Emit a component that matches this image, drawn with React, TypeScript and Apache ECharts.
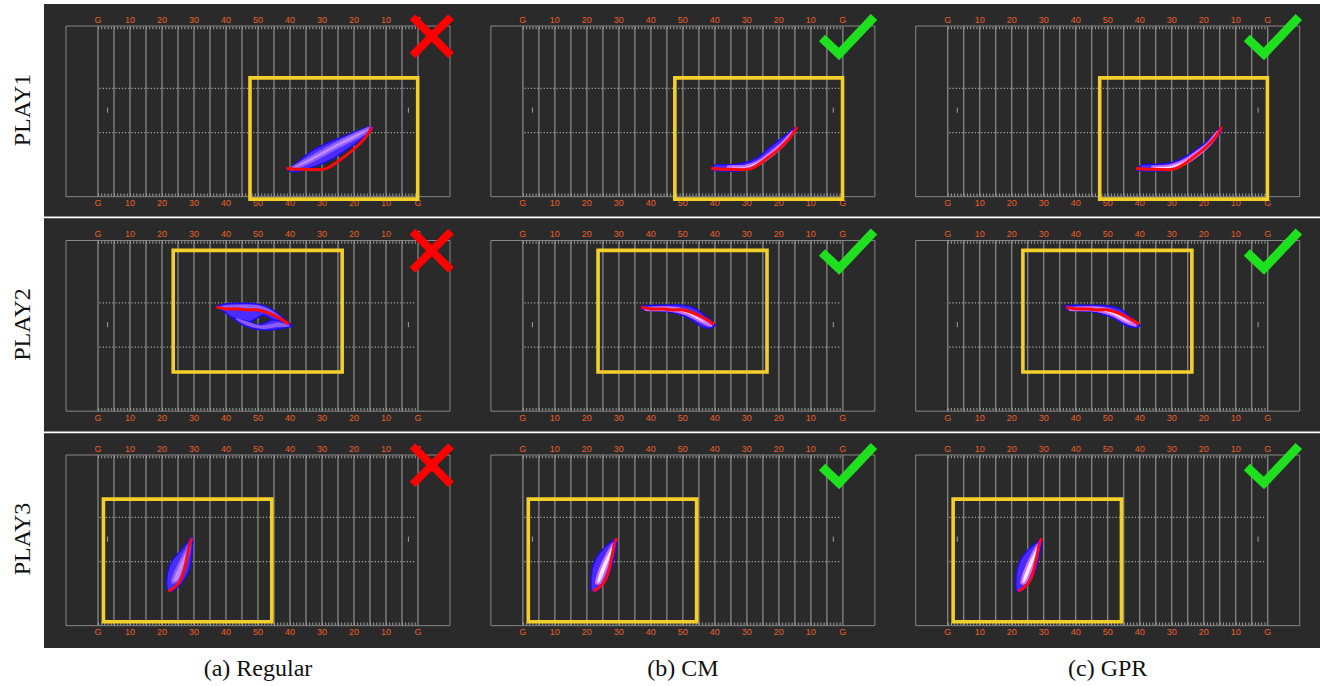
import React, { useEffect, useRef } from "react";
import * as echarts from "echarts";

// ---------- field geometry (yards) ----------
const FIELD_LENGTH = 120;
const FIELD_WIDTH = 53.33;
const FIELD_LABELS = ["", "G", "10", "20", "30", "40", "50", "40", "30", "20", "10", "G", ""];
const YARD_LINES = [10, 15, 20, 25, 30, 35, 40, 45, 50, 55, 60, 65, 70, 75, 80, 85, 90, 95, 100, 105, 110];
const HASH_ROWS = [19.5, 33.3];
const SIDE_TICK_ROWS = [0.6, 52.7];
const INBOUND_MARKS = [13, 107];

const PLAYS = ["PLAY1", "PLAY2", "PLAY3"];
const METHODS = ["(a) Regular", "(b) CM", "(c) GPR"];
const VERDICTS = ["wrong", "right", "right"];

// ---------- zoom boxes [x1, y1, x2, y2] in yards ----------
const BOX_PLAY1 = [57.5, 16.2, 109.9, 54.1];
const BOX_PLAY2 = [33.5, 3.1, 86.3, 41.1];
const BOX_PLAY3 = [11.7, 13.8, 64.3, 52.1];

// ---------- ground-truth trajectories (red) ----------
const TRUTH_PLAY1 = [[68.9, 44.5], [73.7, 44.8], [78.9, 44.9], [81.5, 44.5], [84.2, 42.9], [87.3, 40.6], [90.3, 38.2], [93.0, 35.5], [94.7, 33.2], [95.6, 31.5]];
const TRUTH_PLAY2 = [[47.0, 20.8], [50.0, 21.4], [54.0, 21.4], [56.8, 21.7], [59.4, 21.6], [62.0, 22.2], [64.9, 23.3], [67.6, 24.8], [69.7, 26.2]];
const TRUTH_PLAY3 = [[32.0, 42.6], [33.5, 41.7], [35.3, 39.9], [36.7, 36.7], [37.6, 32.9], [38.2, 30.0], [38.7, 27.6], [39.3, 26.0]];

// ---------- predicted distributions (outer hull + bright core) ----------
const BLOB_P1_REGULAR = [[69.8, 45.2], [72.6, 42.4], [77.3, 38.75], [82.5, 36.2], [87.7, 34.1], [91.9, 32.5], [95.0, 31.5], [96.0, 32.0], [94.5, 33.5], [90.8, 36.5], [86.7, 39.3], [82.5, 41.9], [77.3, 44.0], [72.6, 45.5]];
const CORE_P1_REGULAR = [[70.3, 44.4], [77.2, 40.5], [84.1, 36.7], [90.3, 33.6], [95.0, 31.7], [95.3, 32.2], [90.6, 35.2], [84.4, 38.3], [77.5, 42.0], [70.6, 45.0]];
const BLOB_P1_CM = [[70.0, 43.4], [73.7, 43.4], [78.9, 42.9], [83.1, 41.3], [86.2, 38.75], [89.3, 36.2], [93.0, 33.5], [95.0, 31.7], [95.0, 32.5], [92.2, 35.6], [88.8, 38.75], [85.0, 41.9], [81.6, 44.1], [77.9, 45.3], [73.2, 45.3], [69.4, 45.0]];
const CORE_P1_CM = [[74.1, 43.9], [79.4, 43.75], [83.5, 42.3], [87.2, 39.7], [91.0, 36.6], [94.1, 33.1], [94.4, 33.4], [91.6, 37.2], [87.8, 40.5], [84.1, 43.1], [79.7, 44.5], [74.4, 44.5]];
const BLOB_P1_GPR = [[70.7, 43.4], [75.8, 43.2], [81.0, 42.4], [85.2, 40.3], [89.4, 37.4], [93.0, 34.3], [95.1, 31.8], [95.7, 32.5], [92.6, 36.6], [88.8, 40.0], [84.4, 42.8], [79.4, 45.0], [73.1, 45.3], [69.0, 45.0]];
const CORE_P1_GPR = [[74.0, 44.0], [79.5, 43.6], [84.0, 41.9], [88.0, 39.2], [91.6, 36.3], [94.3, 33.0], [94.6, 33.5], [92.0, 37.0], [88.5, 40.2], [84.5, 42.9], [79.8, 44.6], [74.3, 44.6]];

const BLOB_P2_REGULAR_UPPER = [[46.9, 20.6], [52.2, 19.6], [59.6, 19.8], [63.8, 21.2], [67.9, 24.3], [70.6, 26.6], [64.8, 24.8], [61.7, 23.3], [57.3, 25.4], [52.3, 24.3], [48.7, 21.7]];
const BLOB_P2_REGULAR_LOWER = [[57.3, 25.4], [60.4, 26.4], [64.8, 24.8], [70.6, 26.6], [67.9, 27.4], [61.7, 28.0], [56.5, 26.9], [52.3, 24.3]];
const CORE_P2_REGULAR_UPPER = [[48.5, 20.8], [53.0, 20.4], [59.5, 20.5], [63.5, 21.8], [67.0, 24.2], [63.0, 22.3], [59.5, 21.3], [53.0, 21.1]];
const CORE_P2_REGULAR_LOWER = [[53.5, 24.6], [57.0, 26.3], [61.5, 27.3], [66.5, 26.6], [69.5, 26.7], [66.5, 26.0], [61.5, 26.9], [57.0, 25.8]];
const BLOB_P2_CM = [[47.1, 20.5], [53.9, 20.2], [60.1, 20.2], [63.8, 21.2], [66.4, 23.1], [69.5, 25.6], [70.0, 26.6], [68.5, 27.4], [65.9, 26.9], [62.8, 24.8], [59.1, 23.1], [56.0, 22.4], [51.8, 22.0], [47.6, 21.7]];
const CORE_P2_CM = [[48.2, 21.2], [55.4, 20.9], [60.7, 21.7], [64.5, 23.6], [68.5, 26.1], [68.8, 26.7], [65.1, 25.1], [61.0, 23.0], [56.0, 21.9], [48.5, 21.7]];
const BLOB_P2_GPR = [[46.7, 20.4], [53.9, 20.2], [60.2, 20.4], [63.8, 21.4], [66.4, 23.3], [69.1, 25.6], [70.1, 26.6], [68.5, 27.2], [65.4, 26.4], [62.8, 24.8], [59.2, 23.3], [56.0, 22.4], [51.9, 22.0], [47.7, 21.7]];
const CORE_P2_GPR = [[48.0, 21.2], [55.4, 20.9], [60.7, 21.6], [64.4, 23.5], [68.3, 26.0], [68.7, 26.6], [65.0, 25.2], [61.0, 23.1], [56.0, 21.9], [48.3, 21.7]];

const BLOB_P3_REGULAR = [[31.5, 41.2], [31.7, 37.0], [33.0, 33.3], [35.6, 30.2], [37.7, 27.6], [39.3, 25.7], [39.6, 27.1], [38.75, 34.9], [37.2, 38.5], [35.1, 41.2], [32.5, 42.7]];
const CORE_P3_REGULAR = [[33.1, 39.7], [34.7, 35.3], [37.2, 30.3], [38.75, 27.5], [38.4, 30.3], [36.9, 35.3], [35.0, 39.4]];
const BLOB_P3_CM = [[31.3, 41.6], [31.6, 35.9], [32.9, 32.2], [35.4, 29.1], [37.9, 26.9], [39.4, 26.25], [39.1, 29.1], [37.9, 34.7], [36.0, 39.1], [33.5, 42.2], [31.9, 42.7]];
const CORE_P3_CM = [[32.9, 40.0], [34.1, 35.6], [36.3, 30.9], [38.2, 27.8], [37.9, 30.6], [36.0, 35.9], [34.1, 40.0]];
const BLOB_P3_GPR = [[31.3, 41.6], [31.6, 36.3], [32.9, 32.5], [35.4, 29.4], [37.9, 27.2], [39.4, 26.1], [39.1, 29.1], [37.9, 34.7], [36.0, 39.1], [33.5, 42.2], [31.9, 42.7]];
const CORE_P3_GPR = [[33.0, 40.0], [34.2, 35.8], [36.4, 31.0], [38.3, 27.9], [38.0, 30.7], [36.1, 36.0], [34.2, 40.0]];

const BOXES = [BOX_PLAY1, BOX_PLAY2, BOX_PLAY3];
const TRUTHS = [TRUTH_PLAY1, TRUTH_PLAY2, TRUTH_PLAY3];
const BLOBS = [
  [[BLOB_P1_REGULAR], [BLOB_P1_CM], [BLOB_P1_GPR]],
  [[BLOB_P2_REGULAR_UPPER, BLOB_P2_REGULAR_LOWER], [BLOB_P2_CM], [BLOB_P2_GPR]],
  [[BLOB_P3_REGULAR], [BLOB_P3_CM], [BLOB_P3_GPR]],
];
const CORES = [
  [[CORE_P1_REGULAR], [CORE_P1_CM], [CORE_P1_GPR]],
  [[CORE_P2_REGULAR_UPPER, CORE_P2_REGULAR_LOWER], [CORE_P2_CM], [CORE_P2_GPR]],
  [[CORE_P3_REGULAR], [CORE_P3_CM], [CORE_P3_GPR]],
];

// ---------- layout (pixels) ----------
const W = 1324;
const H = 686;
const FIELD_LEFT0 = 66;
const FIELD_TOP0 = 26;
const COL_STEP = 424.85;
const ROW_STEP = 214.5;
const FIELD_W = 384;
const FIELD_H = 170.67;

const LINE_GREY = "#878787";
const LABEL_ORANGE = "#ea5f28";

function buildOption() {
  const grid: any[] = [];
  const xAxis: any[] = [];
  const yAxis: any[] = [];
  const series: any[] = [];
  const graphic: any[] = [];

  // dark panels
  const rowBands = [[4, 216.6], [218.2, 431.6], [433.2, 648]];
  rowBands.forEach(([y0, y1]) => {
    graphic.push({ type: "rect", z: -10, silent: true, shape: { x: 44, y: y0, width: 1276, height: y1 - y0 }, style: { fill: "#2a2a2a" } });
  });

  const axisLabel = {
    color: LABEL_ORANGE,
    fontSize: 9,
    fontFamily: "Liberation Sans",
    margin: 2,
    formatter: (v: number) => FIELD_LABELS[Math.round(v / 10)] ?? "",
  };

  for (let r = 0; r < 3; r++) {
    for (let c = 0; c < 3; c++) {
      const gi = r * 3 + c;
      const xi = gi * 2;
      grid.push({
        left: FIELD_LEFT0 + c * COL_STEP,
        top: FIELD_TOP0 + r * ROW_STEP,
        width: FIELD_W,
        height: FIELD_H,
        show: true,
        borderColor: LINE_GREY,
        borderWidth: 1,
        backgroundColor: "transparent",
      });
      const baseX = {
        gridIndex: gi, type: "value", min: 0, max: FIELD_LENGTH, interval: 10,
        axisLine: { show: false }, axisTick: { show: false }, splitLine: { show: false },
        axisLabel,
      };
      xAxis.push({ ...baseX, position: "bottom" });
      xAxis.push({ ...baseX, position: "top" });
      yAxis.push({ gridIndex: gi, type: "value", min: 0, max: FIELD_WIDTH, inverse: true, show: false });

      const common = { xAxisIndex: xi, yAxisIndex: gi, silent: true, animation: false };

      // yard lines
      series.push({
        ...common, type: "custom", clip: false, z: 1,
        data: YARD_LINES.map((x) => [x, 0]),
        encode: { x: 0, y: 1 },
        renderItem: (p: any, api: any) => {
          const x = api.value(0);
          const a = api.coord([x, 0]);
          const b = api.coord([x, FIELD_WIDTH]);
          return { type: "line", shape: { x1: a[0], y1: a[1], x2: b[0], y2: b[1] }, style: { stroke: LINE_GREY, lineWidth: 1.3 } };
        },
      });
      // hash rows (dotted)
      series.push({
        ...common, type: "custom", clip: false, z: 1,
        data: HASH_ROWS.map((y) => [10.5, y]),
        encode: { x: 0, y: 1 },
        renderItem: (p: any, api: any) => {
          const y = api.value(1);
          const a = api.coord([10.5, y]);
          const b = api.coord([109.5, y]);
          return { type: "line", shape: { x1: a[0], y1: a[1], x2: b[0], y2: b[1] }, style: { stroke: "#a8a8a8", lineWidth: 1.2, lineDash: [1.2, 2] } };
        },
      });
      // sideline ticks
      series.push({
        ...common, type: "custom", clip: false, z: 1,
        data: SIDE_TICK_ROWS.map((y) => [10, y]),
        encode: { x: 0, y: 1 },
        renderItem: (p: any, api: any) => {
          const y = api.value(1);
          const a = api.coord([10, y]);
          const b = api.coord([110, y]);
          return { type: "line", shape: { x1: a[0], y1: a[1], x2: b[0], y2: b[1] }, style: { stroke: "#a0a0a0", lineWidth: 2.5, lineDash: [1, 2.2] } };
        },
      });
      // inbound marks
      series.push({
        ...common, type: "custom", clip: false, z: 1,
        data: INBOUND_MARKS.map((x) => [x, 26.3]),
        encode: { x: 0, y: 1 },
        renderItem: (p: any, api: any) => {
          const x = api.value(0);
          const a = api.coord([x, 25.5]);
          const b = api.coord([x, 27.1]);
          return { type: "line", shape: { x1: a[0], y1: a[1], x2: b[0], y2: b[1] }, style: { stroke: "#a0a0a0", lineWidth: 1 } };
        },
      });
      // zoom box
      const box = BOXES[r];
      series.push({
        ...common, type: "custom", clip: false, z: 5,
        data: [box],
        encode: { x: [0, 2], y: [1, 3] },
        renderItem: (p: any, api: any) => {
          const a = api.coord([api.value(0), api.value(1)]);
          const b = api.coord([api.value(2), api.value(3)]);
          return { type: "rect", shape: { x: a[0], y: a[1], width: b[0] - a[0], height: b[1] - a[1] }, style: { fill: "none", stroke: "#f3cf2a", lineWidth: 3.6 } };
        },
      });
      // predicted distribution
      const regular = c === 0;
      BLOBS[r][c].forEach((poly) => {
        series.push({
          ...common, type: "custom", clip: false, z: 6,
          data: poly, encode: { x: 0, y: 1 },
          renderItem: (p: any, api: any) =>
            p.dataIndex === 0
              ? { type: "polygon", shape: { points: poly.map((q) => api.coord(q)), smooth: 0.3 }, style: { fill: regular ? "#4b2cff" : "#4a2aff", stroke: "#1c0cf0", lineWidth: 1.4 } }
              : null,
        });
      });
      CORES[r][c].forEach((poly) => {
        series.push({
          ...common, type: "custom", clip: false, z: 7,
          data: poly, encode: { x: 0, y: 1 },
          renderItem: (p: any, api: any) =>
            p.dataIndex === 0
              ? { type: "polygon", shape: { points: poly.map((q) => api.coord(q)), smooth: 0.3 }, style: { fill: regular ? "#c08aff" : "#ffeaff", stroke: regular ? "#8a5cff" : "#cc70ff", lineWidth: 2.2 } }
              : null,
        });
      });
      // ground truth
      series.push({
        ...common, type: "line", z: 9, data: TRUTHS[r], symbol: "none", smooth: 0.2,
        lineStyle: { color: "#ff0a0a", width: 3 },
      });

      // verdict mark
      const ox = c * COL_STEP;
      const oy = r * ROW_STEP;
      if (VERDICTS[c] === "wrong") {
        graphic.push({ type: "line", z: 100, silent: true, shape: { x1: 412.5 + ox, y1: 17 + oy, x2: 451 + ox, y2: 55.5 + oy }, style: { stroke: "#ff0000", lineWidth: 8 } });
        graphic.push({ type: "line", z: 100, silent: true, shape: { x1: 451 + ox, y1: 17 + oy, x2: 412.5 + ox, y2: 55.5 + oy }, style: { stroke: "#ff0000", lineWidth: 8 } });
      } else {
        graphic.push({ type: "polyline", z: 100, silent: true, shape: { points: [[822 - COL_STEP + ox, 38 + oy], [839 - COL_STEP + ox, 54 + oy], [874 - COL_STEP + ox, 17 + oy]] }, style: { stroke: "#1fe01f", lineWidth: 9, lineJoin: "miter", fill: "none" } });
      }
    }
  }

  PLAYS.forEach((t, r) => {
    graphic.push({
      type: "text", z: 100, silent: true, x: 22, y: 110 + r * ROW_STEP, rotation: Math.PI / 2,
      style: { text: t, fill: "#111", font: "24px 'Liberation Serif'", textAlign: "center", textVerticalAlign: "middle" },
    });
  });
  METHODS.forEach((t, c) => {
    graphic.push({
      type: "text", z: 100, silent: true, x: FIELD_LEFT0 + FIELD_W / 2 + c * COL_STEP, y: 668,
      style: { text: t, fill: "#111", font: "24px 'Liberation Serif'", textAlign: "center", textVerticalAlign: "middle" },
    });
  });

  return { animation: false, grid, xAxis, yAxis, series, graphic };
}

export default function App() {
  const ref = useRef<HTMLDivElement>(null);
  useEffect(() => {
    if (!ref.current) return;
    const chart = echarts.init(ref.current, null, { renderer: "svg" });
    chart.setOption(buildOption() as any);
    return () => chart.dispose();
  }, []);
  return <div ref={ref} style={{ position: "absolute", left: 0, top: 0, width: W, height: H, background: "#fff" }} />;
}
